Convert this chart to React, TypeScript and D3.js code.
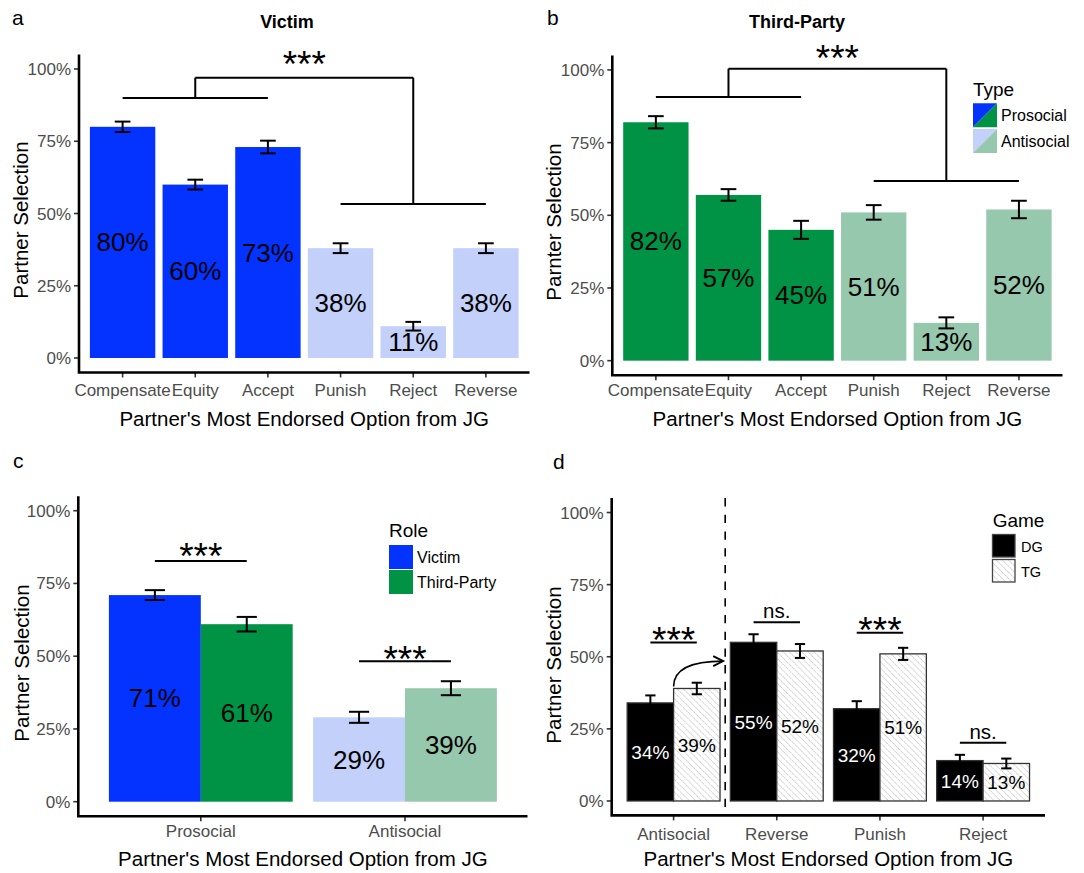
import React from "react";
import * as d3 from "d3";

const FONT = "'Liberation Sans', Arial, Helvetica, sans-serif";

// ---------- Data ----------
// Panel a: Victim
const victimCategories = ["Compensate", "Equity", "Accept", "Punish", "Reject", "Reverse"];
const victimValues = [80, 60, 73, 38, 11, 38];
const victimErrors = [1.8, 1.7, 2.2, 1.7, 1.5, 1.7];
const victimTypes = ["Prosocial", "Prosocial", "Prosocial", "Antisocial", "Antisocial", "Antisocial"];
const victimBracketY = [90, 97, 53.3];
const victimStarY = 104.8;

// Panel b: Third-Party
const thirdCategories = ["Compensate", "Equity", "Accept", "Punish", "Reject", "Reverse"];
const thirdValues = [82, 57, 45, 51, 13, 52];
const thirdErrors = [2.1, 2.0, 3.1, 2.5, 1.9, 3.0];
const thirdTypes = ["Prosocial", "Prosocial", "Prosocial", "Antisocial", "Antisocial", "Antisocial"];
const thirdBracketY = [90.7, 100.4, 61.8];
const thirdStarY = 106.9;

// Panel c: Role
const roleGroups = ["Prosocial", "Antisocial"];
const roles = ["Victim", "Third-Party"];
const victimRoleValues = [71, 29];
const thirdRoleValues = [61, 39];
const victimRoleErrors = [1.7, 1.9];
const thirdRoleErrors = [2.5, 2.4];
const roleSigLabels = ["***", "***"];
const roleSigY = [82.7, 48.3];
const roleStarY = [87.5, 51.8];

// Panel d: Game
const gameCategories = ["Antisocial", "Reverse", "Punish", "Reject"];
const games = ["DG", "TG"];
const dgValues = [34, 55, 32, 14];
const tgValues = [39, 52, 51, 13];
const dgErrors = [2.6, 2.8, 2.6, 2.0];
const tgErrors = [2.0, 2.4, 2.1, 1.7];
const gameSigLabels = ["***", "ns.", "***", "ns."];
const gameSigY = [54.9, 62, 58.3, 20.2];
const gameSigTextY = [58.7, 65.3, 62.1, 23.5];
const arrowEndValue = 48.5;

const yTicks = [0, 25, 50, 75, 100];
const yTickLabels = ["0%", "25%", "50%", "75%", "100%"];

const COLORS: Record<string, Record<string, string>> = {
  Victim: { Prosocial: "#0433FF", Antisocial: "#C2D0FA" },
  "Third-Party": { Prosocial: "#009245", Antisocial: "#96C8AD" },
};

const W = 1084;
const H = 873;

function bandScale(domain: string[], r0: number, r1: number) {
  return d3.scaleBand<string>().domain(domain).range([r0, r1]).paddingInner(0.1).paddingOuter(0.15);
}

function Frame({ x, y, tickBaseline, titleBaseline, yTitle, yTitleX, yTitleY }: any) {
  const [x0, x1] = x.range();
  const yb = y(-5);
  const yt = y(105);
  return (
    <g>
      {yTicks.map((t, i) => (
        <g key={t}>
          <line x1={x0 - 5} x2={x0} y1={y(t)} y2={y(t)} stroke="#333" strokeWidth={1.6} />
          <text x={x0 - 8} y={y(t) + 6} textAnchor="end" fontSize={17} fill="#4D4D4D">
            {yTickLabels[i]}
          </text>
        </g>
      ))}
      {x.domain().map((c: string) => {
        const cx = x(c) + x.bandwidth() / 2;
        return (
          <g key={c}>
            <line x1={cx} x2={cx} y1={yb} y2={yb + 5} stroke="#333" strokeWidth={1.6} />
            <text x={cx} y={tickBaseline} textAnchor="middle" fontSize={17} fill="#4D4D4D">
              {c}
            </text>
          </g>
        );
      })}
      <path d={`M${x0},${yt}V${yb}H${x1}`} fill="none" stroke="#000" strokeWidth={2.6} />
      <text x={(x0 + x1) / 2} y={titleBaseline} textAnchor="middle" fontSize={20.5} fill="#000">
        Partner's Most Endorsed Option from JG
      </text>
      <text transform={`translate(${yTitleX},${yTitleY}) rotate(-90)`} textAnchor="middle" fontSize={20.5} fill="#000">
        {yTitle}
      </text>
    </g>
  );
}

function ErrorBar({ cx, y, v, e, cap, color = "#000" }: any) {
  const y1 = y(v + e);
  const y2 = y(v - e);
  return (
    <g stroke={color} strokeWidth={2}>
      <line x1={cx} x2={cx} y1={y1} y2={y2} />
      <line x1={cx - cap / 2} x2={cx + cap / 2} y1={y1} y2={y1} />
      <line x1={cx - cap / 2} x2={cx + cap / 2} y1={y2} y2={y2} />
    </g>
  );
}

function Stars({ cx, cy, label }: any) {
  if (label === "ns.") {
    return (
      <text x={cx} y={cy + 5.5} textAnchor="middle" fontSize={20.5} fill="#000">
        ns.
      </text>
    );
  }
  return (
    <text x={cx} y={cy + 21.5} textAnchor="middle" fontSize={37} fill="#000">
      {label}
    </text>
  );
}

function SinglePanel({ cats, values, errors, types, role, x, y, bracketY, starY }: any) {
  const bw = x.bandwidth();
  const cxOf = (c: string) => x(c) + bw / 2;
  const [b0, b1, b2] = bracketY.map((v: number) => y(v));
  return (
    <g>
      {cats.map((c: string, i: number) => (
        <rect key={c} x={x(c)} y={y(values[i])} width={bw} height={y(0) - y(values[i])} fill={COLORS[role][types[i]]} />
      ))}
      {cats.map((c: string, i: number) => (
        <ErrorBar key={c} cx={cxOf(c)} y={y} v={values[i]} e={errors[i]} cap={bw * 0.24} />
      ))}
      {cats.map((c: string, i: number) => (
        <text key={c} x={cxOf(c)} y={y(values[i] / 2) + 9} textAnchor="middle" fontSize={26} fill="#000">
          {`${values[i]}%`}
        </text>
      ))}
      <g stroke="#000" strokeWidth={2} fill="none">
        <line x1={cxOf(cats[0])} x2={cxOf(cats[2])} y1={b0} y2={b0} />
        <line x1={cxOf(cats[1])} x2={cxOf(cats[1])} y1={b0} y2={b1} />
        <line x1={cxOf(cats[1])} x2={cxOf(cats[4])} y1={b1} y2={b1} />
        <line x1={cxOf(cats[4])} x2={cxOf(cats[4])} y1={b1} y2={b2} />
        <line x1={cxOf(cats[3])} x2={cxOf(cats[5])} y1={b2} y2={b2} />
      </g>
      <Stars cx={(cxOf(cats[1]) + cxOf(cats[4])) / 2} cy={y(starY)} label="***" />
    </g>
  );
}

export default function App() {
  // Panel a
  const xA = bandScale(victimCategories, 79, 529.5);
  const yA = d3.scaleLinear().domain([-5, 105]).range([372.45, 54.55]);
  // Panel b
  const xB = bandScale(thirdCategories, 612.3, 1062.5);
  const yB = d3.scaleLinear().domain([-5, 105]).range([375.2, 55.4]);
  // Panel c
  const xC = bandScale(roleGroups, 78.3, 527.5);
  const xCi = d3.scaleBand<string>().domain(roles).range([0, xC.bandwidth()]).padding(0);
  const yC = d3.scaleLinear().domain([-5, 105]).range([816.25, 496.15]);
  const roleVals = [victimRoleValues, thirdRoleValues];
  const roleErrs = [victimRoleErrors, thirdRoleErrors];
  // Panel d
  const xD = bandScale(gameCategories, 611.7, 1045);
  const xDi = d3.scaleBand<string>().domain(games).range([0, xD.bandwidth()]).padding(0);
  const yD = d3.scaleLinear().domain([-5, 105]).range([815.4, 498.1]);
  const gameVals = [dgValues, tgValues];
  const gameErrs = [dgErrors, tgErrors];

  const dashX = (xD(gameCategories[0])! + xD.bandwidth() / 2 + xD(gameCategories[1])! + xD.bandwidth() / 2) / 2;
  const arrowSX = xD(gameCategories[0])! + xDi("TG")!;
  const arrowSY = yD(tgValues[0]) - 2;
  const arrowEX = dashX - 2;
  const arrowEY = yD(arrowEndValue);

  return (
    <svg
      width={W}
      height={H}
      viewBox={`0 0 ${W} ${H}`}
      style={{ position: "absolute", left: 0, top: 0, background: "#fff", fontFamily: FONT }}
    >
      <defs>
        <pattern id="hatch" patternUnits="userSpaceOnUse" width={4.4} height={4.4} patternTransform="rotate(-45)">
          <rect width={4.4} height={4.4} fill="#fff" />
          <line x1={0} y1={0} x2={0} y2={4.4} stroke="#8a8a8a" strokeWidth={0.9} strokeDasharray="1.2 0.8" />
        </pattern>
      </defs>
      <rect width={W} height={H} fill="#fff" />

      {/* Panel labels and titles */}
      <text x={12} y={25} fontSize={21} fill="#000">a</text>
      <text x={547} y={25} fontSize={21} fill="#000">b</text>
      <text x={13} y={468} fontSize={21} fill="#000">c</text>
      <text x={553} y={469} fontSize={21} fill="#000">d</text>
      <text x={287} y={28} textAnchor="middle" fontSize={18} fontWeight="bold" fill="#000">Victim</text>
      <text x={797} y={28} textAnchor="middle" fontSize={18} fontWeight="bold" fill="#000">Third-Party</text>

      {/* Panel a */}
      <SinglePanel cats={victimCategories} values={victimValues} errors={victimErrors} types={victimTypes} role="Victim" x={xA} y={yA} bracketY={victimBracketY} starY={victimStarY} />
      <Frame x={xA} y={yA} tickBaseline={396} titleBaseline={425.5} yTitle="Partner Selection" yTitleX={28} yTitleY={220} />

      {/* Panel b */}
      <SinglePanel cats={thirdCategories} values={thirdValues} errors={thirdErrors} types={thirdTypes} role="Third-Party" x={xB} y={yB} bracketY={thirdBracketY} starY={thirdStarY} />
      <Frame x={xB} y={yB} tickBaseline={396} titleBaseline={425.5} yTitle="Parnter Selection" yTitleX={561} yTitleY={222} />
      {/* Legend b */}
      <g>
        <text x={973} y={96} fontSize={19} fill="#000">Type</text>
        {["Prosocial", "Antisocial"].map((t, i) => {
          const kx = 973;
          const ky = 103.3 + i * 25.7;
          const s = 24;
          return (
            <g key={t}>
              <polygon points={`${kx},${ky} ${kx + s},${ky} ${kx},${ky + s}`} fill={COLORS.Victim[t]} />
              <polygon points={`${kx + s},${ky} ${kx + s},${ky + s} ${kx},${ky + s}`} fill={COLORS["Third-Party"][t]} />
              <text x={1001} y={ky + 18} fontSize={16} fill="#000">{t}</text>
            </g>
          );
        })}
      </g>

      {/* Panel c */}
      <g>
        {roleGroups.map((g, gi) =>
          roles.map((r, ri) => (
            <rect key={g + r} x={xC(g)! + xCi(r)!} y={yC(roleVals[ri][gi])} width={xCi.bandwidth()} height={yC(0) - yC(roleVals[ri][gi])} fill={COLORS[r][g]} />
          ))
        )}
        {roleGroups.map((g, gi) =>
          roles.map((r, ri) => (
            <ErrorBar key={g + r} cx={xC(g)! + xCi(r)! + xCi.bandwidth() / 2} y={yC} v={roleVals[ri][gi]} e={roleErrs[ri][gi]} cap={xCi.bandwidth() * 0.22} />
          ))
        )}
        {roleGroups.map((g, gi) =>
          roles.map((r, ri) => (
            <text key={g + r} x={xC(g)! + xCi(r)! + xCi.bandwidth() / 2} y={yC(roleVals[ri][gi] / 2) + 9} textAnchor="middle" fontSize={26} fill="#000">
              {`${roleVals[ri][gi]}%`}
            </text>
          ))
        )}
        {roleGroups.map((g, gi) => {
          const c1 = xC(g)! + xCi(roles[0])! + xCi.bandwidth() / 2;
          const c2 = xC(g)! + xCi(roles[1])! + xCi.bandwidth() / 2;
          return (
            <g key={g}>
              <line x1={c1} x2={c2} y1={yC(roleSigY[gi])} y2={yC(roleSigY[gi])} stroke="#000" strokeWidth={2} />
              <Stars cx={(c1 + c2) / 2} cy={yC(roleStarY[gi])} label={roleSigLabels[gi]} />
            </g>
          );
        })}
      </g>
      <Frame x={xC} y={yC} tickBaseline={837} titleBaseline={866} yTitle="Partner Selection" yTitleX={29} yTitleY={663} />
      {/* Legend c */}
      <g>
        <text x={389} y={536.7} fontSize={19} fill="#000">Role</text>
        {roles.map((r, i) => (
          <g key={r}>
            <rect x={389} y={545 + i * 25} width={24} height={24} fill={COLORS[r].Prosocial} />
            <text x={417} y={562.5 + i * 25} fontSize={16} fill="#000">{r}</text>
          </g>
        ))}
      </g>

      {/* Panel d */}
      <g>
        {gameCategories.map((c, ci) =>
          games.map((gm, gi) => (
            <rect key={c + gm} x={xD(c)! + xDi(gm)!} y={yD(gameVals[gi][ci])} width={xDi.bandwidth()} height={yD(0) - yD(gameVals[gi][ci])} fill={gm === "DG" ? "#000" : "url(#hatch)"} stroke="#333" strokeWidth={1.3} />
          ))
        )}
        {gameCategories.map((c, ci) =>
          games.map((gm, gi) => (
            <ErrorBar key={c + gm} cx={xD(c)! + xDi(gm)! + xDi.bandwidth() / 2} y={yD} v={gameVals[gi][ci]} e={gameErrs[gi][ci]} cap={xDi.bandwidth() * 0.22} />
          ))
        )}
        {gameCategories.map((c, ci) =>
          games.map((gm, gi) => (
            <text key={c + gm} x={xD(c)! + xDi(gm)! + xDi.bandwidth() / 2} y={yD(gameVals[gi][ci] / 2) + 7} textAnchor="middle" fontSize={19} fill={gm === "DG" ? "#fff" : "#000"}>
              {`${gameVals[gi][ci]}%`}
            </text>
          ))
        )}
        {gameCategories.map((c, ci) => {
          const c1 = xD(c)! + xDi("DG")! + xDi.bandwidth() / 2;
          const c2 = xD(c)! + xDi("TG")! + xDi.bandwidth() / 2;
          return (
            <g key={c}>
              <line x1={c1} x2={c2} y1={yD(gameSigY[ci])} y2={yD(gameSigY[ci])} stroke="#000" strokeWidth={2} />
              <Stars cx={(c1 + c2) / 2} cy={yD(gameSigTextY[ci])} label={gameSigLabels[ci]} />
            </g>
          );
        })}
        <line x1={dashX} x2={dashX} y1={yD(105)} y2={yD(-5)} stroke="#000" strokeWidth={1.6} strokeDasharray="8.3 8.4" />
        <path d={`M${arrowSX},${arrowSY} C${arrowSX},${arrowSY - 18} ${arrowSX + 18},${arrowEY} ${arrowEX},${arrowEY}`} fill="none" stroke="#000" strokeWidth={1.6} />
        <polyline points={`${arrowEX - 10},${arrowEY - 5} ${arrowEX},${arrowEY} ${arrowEX - 10},${arrowEY + 5}`} fill="none" stroke="#000" strokeWidth={1.8} />
      </g>
      <Frame x={xD} y={yD} tickBaseline={840} titleBaseline={865.5} yTitle="Partner Selection" yTitleX={561} yTitleY={665} />
      {/* Legend d */}
      <g>
        <text x={992.7} y={526.7} fontSize={19} fill="#000">Game</text>
        {games.map((gm, i) => (
          <g key={gm}>
            <rect x={992.5} y={534.5 + i * 25} width={22.5} height={22.5} fill={gm === "DG" ? "#000" : "url(#hatch)"} stroke="#444" strokeWidth={1.3} />
            <text x={1021} y={552 + i * 24.5} fontSize={14.5} fill="#000">{gm}</text>
          </g>
        ))}
      </g>
    </svg>
  );
}
